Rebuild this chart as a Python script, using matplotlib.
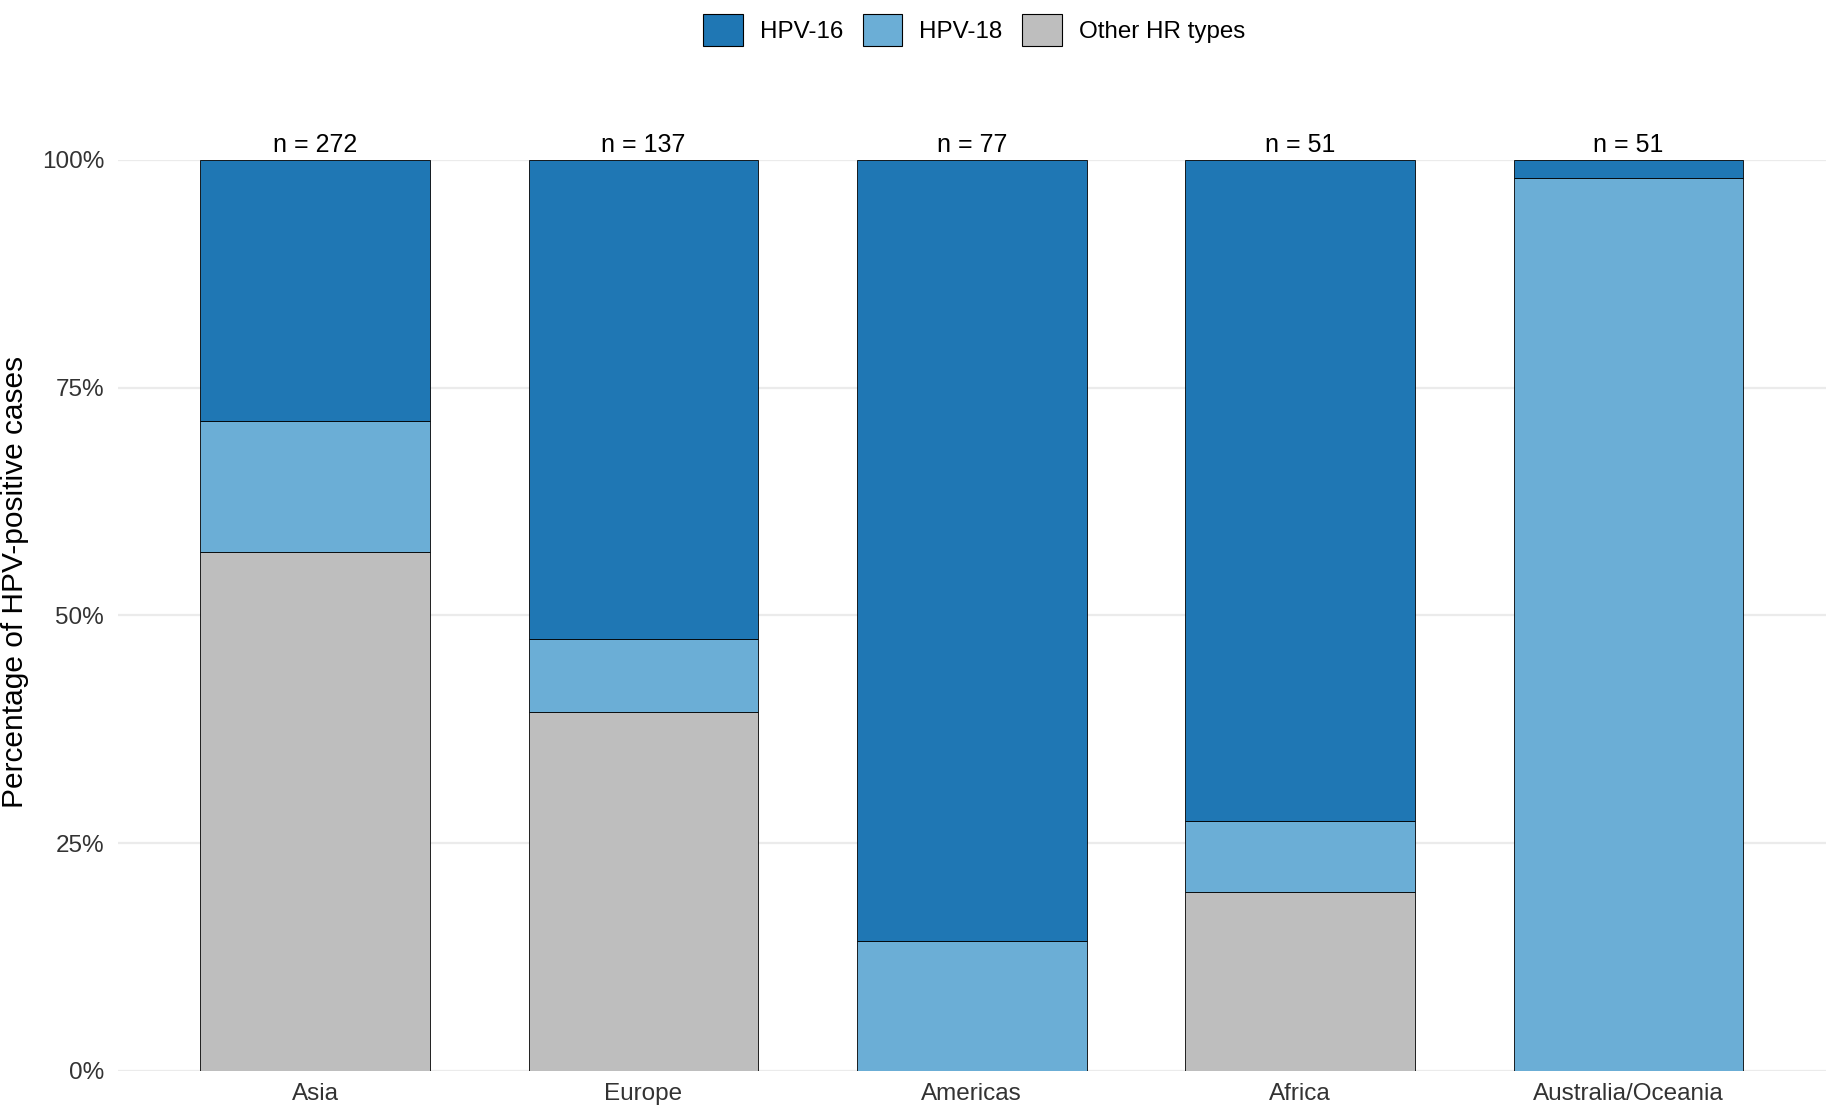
import matplotlib
matplotlib.use("Agg")
import matplotlib.pyplot as plt
from matplotlib.patches import Patch
import numpy as np

plt.rcParams['font.family'] = ['Liberation Sans', 'DejaVu Sans']

regions = ["Asia", "Europe", "Americas", "Africa", "Australia/Oceania"]
n_cases = [272, 137, 77, 51, 51]
hpv16 = [78, 72, 66, 37, 1]
hpv18 = [39, 11, 11, 4, 50]
other = [155, 54, 0, 10, 0]
series_names = ["HPV-16", "HPV-18", "Other HR types"]
colors = {"HPV-16": "#1F77B4", "HPV-18": "#6BAED6", "Other HR types": "#BEBEBE"}
y_ticks = [0, 0.25, 0.5, 0.75, 1.0]
y_ticklabels = ["0%", "25%", "50%", "75%", "100%"]

n = np.array(n_cases, dtype=float)
p16 = np.array(hpv16) / n
p18 = np.array(hpv18) / n
pot = np.array(other) / n

fig = plt.figure(figsize=(18.31, 11.14), dpi=100)
ax = fig.add_axes([0.0645, 0.0386, 0.9325, 0.8178])
x = np.arange(len(regions))
w = 0.7
ax.bar(x, pot, w, color=colors["Other HR types"], edgecolor="black", linewidth=0.6, zorder=2)
ax.bar(x, p18, w, bottom=pot, color=colors["HPV-18"], edgecolor="black", linewidth=0.6, zorder=2)
ax.bar(x, p16, w, bottom=pot + p18, color=colors["HPV-16"], edgecolor="black", linewidth=0.6, zorder=2)

for xi, nn in zip(x, n_cases):
    ax.annotate(f"n = {nn}", (xi, 1.0), xytext=(0, 2), textcoords="offset points",
                ha="center", va="bottom", fontsize=18, color="black", annotation_clip=False)

ax.set_xlim(-0.6, len(regions) - 0.4)
ax.set_ylim(0, 1.0)
ax.set_yticks(y_ticks)
ax.set_yticklabels(y_ticklabels)
ax.set_xticks(x)
ax.set_xticklabels(regions)
ax.tick_params(axis="both", length=0, labelsize=17.5, colors="#333333")
ax.tick_params(axis="x", pad=9)
ax.tick_params(axis="y", pad=10)
ax.grid(axis="y", color="#EBEBEB", linewidth=1.6, zorder=0)
ax.set_axisbelow(True)
for s in ax.spines.values():
    s.set_visible(False)
ax.set_ylabel("Percentage of HPV-positive cases", fontsize=21.5, color="black")
ax.yaxis.set_label_coords(-0.052, 0.537)

handles = [Patch(facecolor=colors[s], edgecolor="black", linewidth=0.8, label=s) for s in series_names]
fig.legend(handles=handles, loc="center", bbox_to_anchor=(0.532, 0.973), ncol=3, frameon=False,
           fontsize=17.4, handlelength=1.65, handleheight=1.65, handletextpad=0.7, columnspacing=0.8)

fig.savefig("out.png", dpi=100, facecolor="white")
